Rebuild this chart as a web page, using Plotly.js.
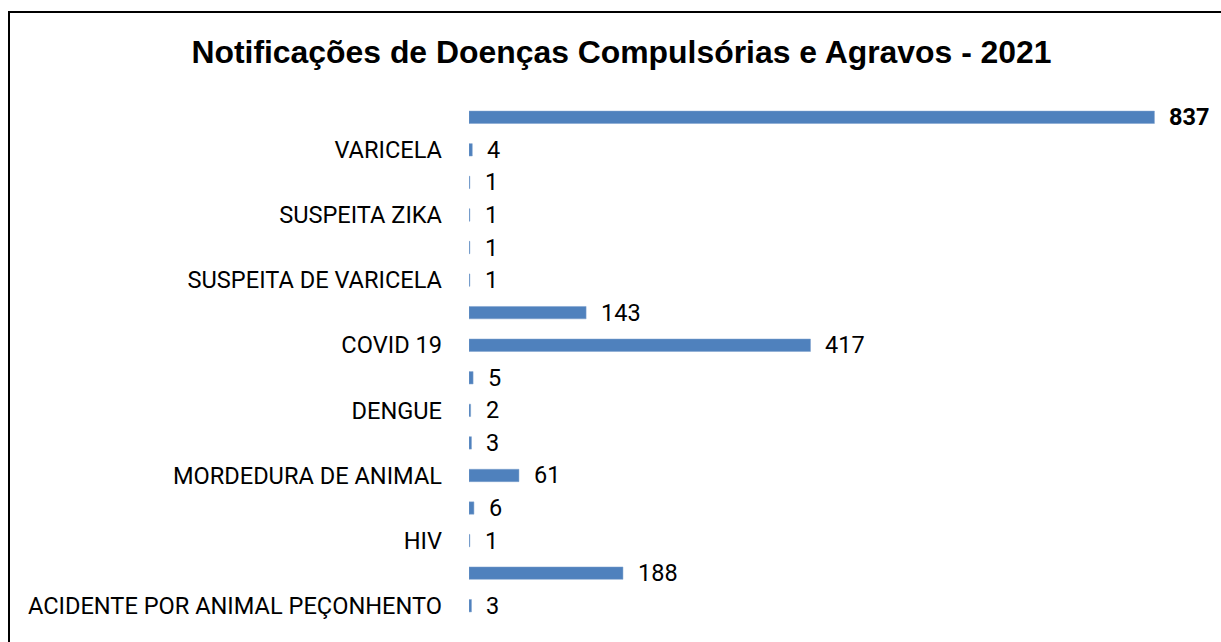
<!DOCTYPE html>
<html>
<head>
<meta charset="utf-8">
<script src="https://cdn.plot.ly/plotly-3.0.1.min.js"></script>
<style>
html,body{margin:0;padding:0;background:#fff;overflow:hidden;}
#wrap{position:relative;width:1221px;height:642px;}
#chart{position:absolute;left:0;top:0;width:1221px;height:642px;}
#frame{position:absolute;left:8px;top:11px;width:1400px;height:800px;border-top:2px solid #000;border-left:2px solid #000;pointer-events:none;}
</style>
</head>
<body>
<div id="wrap"><div id="chart"></div><div id="frame"></div></div>
<script>
// Categories from bottom to top; empty labels are bars whose category label is not shown in the original.
const categoryLabels = [
  'ACIDENTE POR ANIMAL PEÇONHENTO', '', 'HIV', '', 'MORDEDURA DE ANIMAL', '',
  'DENGUE', '', 'COVID 19', '', 'SUSPEITA DE VARICELA', '', 'SUSPEITA ZIKA', '',
  'VARICELA', ''
];
const notificationCounts = [3, 188, 1, 6, 61, 3, 2, 5, 417, 143, 1, 1, 1, 1, 4, 837];
const chartTitle = 'Notificações de Doenças Compulsórias e Agravos - 2021';

const positions = categoryLabels.map((_, i) => i);
const maxVal = Math.max(...notificationCounts);

const trace = {
  type: 'bar',
  orientation: 'h',
  x: notificationCounts,
  y: positions,
  width: 0.38,
  marker: {color: '#4f81bd', line: {color: '#7da0cc', width: 0.5}},
  hoverinfo: 'x+text',
  text: categoryLabels,
  textposition: 'none'
};

const annotations = notificationCounts.map((v, i) => ({
  x: v, y: positions[i], xref: 'x', yref: 'y',
  text: v === maxVal ? '<b>' + v + '</b>' : String(v),
  showarrow: false, xanchor: 'left', yanchor: 'middle', xshift: 13,
  font: {family: 'Roboto, Arial, sans-serif', size: 23.5, color: '#000'}
}));

const layout = {
  width: 1221, height: 642,
  paper_bgcolor: '#fff', plot_bgcolor: '#fff',
  margin: {l: 469, r: 15, t: 101, b: 20, pad: 0},
  showlegend: false,
  title: {
    text: '<b>' + chartTitle + '</b>',
    x: 0.509, xanchor: 'center', y: 0.919, yanchor: 'middle',
    font: {family: 'Liberation Sans, Arial, sans-serif', size: 31.9, color: '#000'}
  },
  xaxis: {range: [0, 900], visible: false, showgrid: false, zeroline: false, fixedrange: true},
  yaxis: {
    range: [-0.5, positions.length - 0.5],
    tickmode: 'array', tickvals: positions, ticktext: categoryLabels,
    showgrid: false, zeroline: false, showline: false, ticks: '',
    ticklabelstandoff: 26,
    tickfont: {family: 'Roboto, Arial, sans-serif', size: 23.6, color: '#000'},
    fixedrange: true
  },
  annotations: annotations
};

Plotly.newPlot('chart', [trace], layout, {displayModeBar: false, staticPlot: true});
</script>
</body>
</html>
